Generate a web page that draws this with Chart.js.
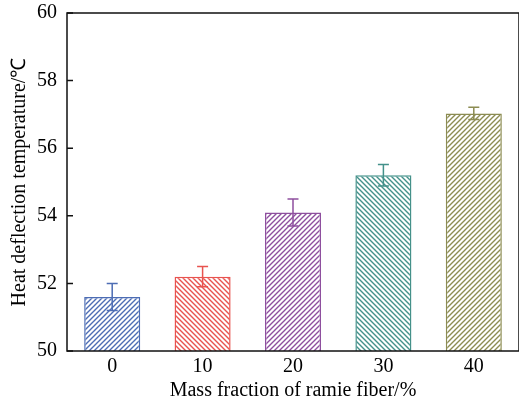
<!DOCTYPE html>
<html>
<head>
<meta charset="utf-8">
<script src="https://cdn.jsdelivr.net/npm/chart.js@4"></script>
<style>
html,body{margin:0;padding:0;background:#fff;}
#wrap{width:519px;height:403px;}
</style>
</head>
<body>
<div id="wrap"><canvas id="c" width="519" height="403"></canvas></div>
<script>
const categories = ['0', '10', '20', '30', '40'];
const values = [51.6, 52.2, 54.1, 55.2, 57.03];
const errors = [0.4, 0.3, 0.4, 0.32, 0.18];
const yTicks = [50, 52, 54, 56, 58, 60];
const xTitle = 'Mass fraction of ramie fiber/%';
const yTitle = 'Heat deflection temperature/℃';

const barColors = ['#4d6db4', '#e8534f', '#8e4f9e', '#44918a', '#8c8c52'];
const hatchDir = [1, -1, 1, -1, 1];

function makeHatch(color, dir) {
  const s = 5;
  const c = document.createElement('canvas');
  c.width = s; c.height = s;
  const g = c.getContext('2d');
  g.fillStyle = '#fff';
  g.fillRect(0, 0, s, s);
  g.strokeStyle = color;
  g.lineWidth = 1.4;
  g.beginPath();
  if (dir > 0) {
    g.moveTo(-1, s + 1); g.lineTo(s + 1, -1);
    g.moveTo(-1 - s, s + 1); g.lineTo(1, -1);
    g.moveTo(s - 1, s + 1); g.lineTo(2 * s + 1, -1);
  } else {
    g.moveTo(-1, -1); g.lineTo(s + 1, s + 1);
    g.moveTo(-1 - s, -1); g.lineTo(1, s + 1);
    g.moveTo(s - 1, -1); g.lineTo(2 * s + 1, s + 1);
  }
  g.stroke();
  return g.createPattern(c, 'repeat');
}

const ctx = document.getElementById('c').getContext('2d');
const patterns = barColors.map((col, i) => makeHatch(col, hatchDir[i]));

const frameAndTicks = {
  id: 'frameAndTicks',
  afterDraw(chart) {
    const { ctx, chartArea: a, scales } = chart;
    ctx.save();
    ctx.strokeStyle = '#111';
    ctx.lineWidth = 1.5;
    ctx.strokeRect(a.left, a.top, a.right - a.left, a.bottom - a.top);
    ctx.beginPath();
    yTicks.forEach(v => {
      const y = scales.y.getPixelForValue(v);
      ctx.moveTo(a.left, y);
      ctx.lineTo(a.left + 6, y);
    });
    ctx.stroke();
    ctx.restore();
  }
};

const errorBars = {
  id: 'errorBars',
  afterDatasetsDraw(chart) {
    const { ctx, scales } = chart;
    const meta = chart.getDatasetMeta(0);
    ctx.save();
    ctx.lineWidth = 1.5;
    meta.data.forEach((bar, i) => {
      const x = bar.x;
      const yt = scales.y.getPixelForValue(values[i] + errors[i]);
      const yb = scales.y.getPixelForValue(values[i] - errors[i]);
      ctx.strokeStyle = barColors[i];
      ctx.beginPath();
      ctx.moveTo(x, yt); ctx.lineTo(x, yb);
      ctx.moveTo(x - 5.5, yt); ctx.lineTo(x + 5.5, yt);
      ctx.moveTo(x - 5.5, yb); ctx.lineTo(x + 5.5, yb);
      ctx.stroke();
    });
    ctx.restore();
  }
};

new Chart(ctx, {
  type: 'bar',
  data: {
    labels: categories,
    datasets: [{
      data: values,
      backgroundColor: patterns,
      borderColor: barColors,
      borderWidth: 1.5,
      borderSkipped: false,
      barPercentage: 0.62,
      categoryPercentage: 1
    }]
  },
  options: {
    responsive: false,
    animation: false,
    devicePixelRatio: 1,
    layout: { padding: { top: 13, right: 0, bottom: 0, left: 0 } },
    plugins: { legend: { display: false }, tooltip: { enabled: false } },
    scales: {
      x: {
        afterFit(scale) { scale.height = 52; scale.paddingLeft = 0; scale.paddingRight = 0; },
        grid: { display: false, drawTicks: false },
        border: { display: false },
        ticks: { color: '#000', font: { family: 'Liberation Serif', size: 20 }, padding: 4 },
        title: { display: true, text: xTitle, color: '#000', font: { family: 'Liberation Serif', size: 20 }, padding: { top: 0, bottom: 0 } }
      },
      y: {
        min: 50, max: 60,
        afterFit(scale) { scale.width = 67; scale.paddingTop = 0; scale.paddingBottom = 0; },
        afterBuildTicks(scale) { scale.ticks = yTicks.map(v => ({ value: v })); },
        grid: { display: false, drawTicks: false },
        border: { display: false },
        ticks: { color: '#000', font: { family: 'Liberation Serif', size: 20 }, padding: 10 },
        title: { display: true, text: yTitle, color: '#000', font: { family: 'Liberation Serif', size: 20 }, padding: { top: 8, bottom: 0 } }
      }
    }
  },
  plugins: [frameAndTicks, errorBars]
});
</script>
</body>
</html>
